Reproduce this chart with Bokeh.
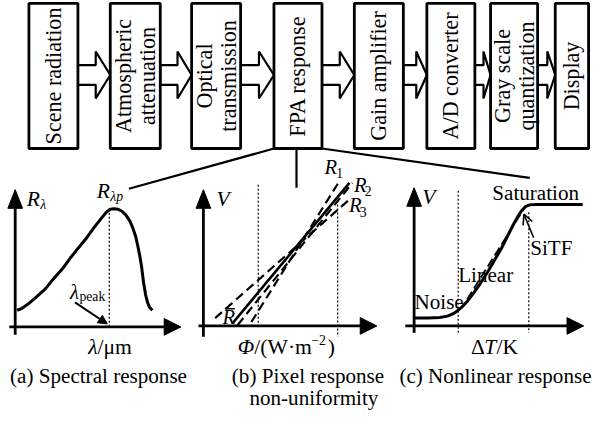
import math
from bokeh.plotting import figure
from bokeh.models import Range1d, Arrow, NormalHead, OpenHead
from bokeh.core.properties import value
from bokeh.embed import file_html
from bokeh.resources import INLINE

# ---------------- data ----------------
stage_labels = [["Scene radiation"], ["Atmospheric", "attenuation"], ["Optical", "transmission"],
                ["FPA response"], ["Gain amplifier"], ["A/D converter"],
                ["Gray scale", "quantization"], ["Display"]]
box_left = [33, 116, 199, 283, 365, 439, 504, 570]
box_right = [83, 167, 249, 332, 415, 488, 552, 604]
BOX_TOP, BOX_BOTTOM = 7, 155

# (a) spectral response, local units (x right, y up from axis origin)
spec_lambda = [2, 7, 14, 22, 31, 39, 48, 56, 64, 73, 81, 88, 93, 97, 101, 105, 109, 113, 117,
               120, 123, 125, 127, 129, 131, 133, 135, 137, 140]
spec_R = [17, 19, 24, 31, 39, 49, 59, 70, 80, 91, 102, 111, 117, 120, 120.5, 120, 118, 114, 108,
          101, 92, 83, 73, 61, 45, 33, 25, 20, 17]
spec_peak = 96

# (b) pixel response lines: (x0, y0, x1, y1) local
mean_line = [30, 3, 149, 146]
R1_line = [49, 4, 139, 148]
R2_line = [35, 1, 152, 146]
R3_line = [12, 8, 149, 129]
pix_dotted_x = [56, 137]

# (c) nonlinear response curve, local units
dT = [1, 14, 26, 34, 40, 45, 50, 55, 61, 68, 75, 82, 89, 95, 101, 106, 110, 114, 118, 124, 134, 172]
Vout = [8, 8, 8.5, 10, 12.5, 16, 20.5, 26, 34, 44, 55, 67, 79, 91, 103, 112, 118, 122, 123.5, 124, 124, 124]
linear_fit = [54, 27, 113, 121]
nl_dotted_x = [45, 117]
sitf_arrow = [122, 90, 112, 114]

# ---------------- figure ----------------
S = 0.98
FONT = value("Liberation Serif")
p = figure(width=592, height=411, x_range=Range1d(4, 608), y_range=Range1d(-423.3, -4),
           output_backend="svg", toolbar_location=None, min_border=0,
           x_axis_location=None, y_axis_location=None)
p.grid.visible = False
p.outline_line_color = None
p.background_fill_color = "white"
p.border_fill_color = "white"


def fs(px):
    return value(f"{px * S:.1f}px")


def txt(x, y, s, size=20, style="normal", align="center", baseline="middle", angle=0.0):
    p.text(x=[x], y=[-y], text=[s], text_font=FONT, text_font_size=fs(size),
           text_font_style=style, text_align=align, text_baseline=baseline,
           angle=angle, text_color="black")


# ---- block-arrows between boxes ----
CY = (BOX_TOP + BOX_BOTTOM) / 2 - 1
xs, ys = [], []
for r, l in zip(box_right[:-1], box_left[1:]):
    g = l - r
    h = 0.45 * g
    px_ = [r, l - h, l - h, l, l - h, l - h, r]
    py_ = [CY - 10, CY - 10, CY - 24, CY, CY + 24, CY + 10, CY + 10]
    xs.append(px_)
    ys.append([-v for v in py_])
p.patches(xs, ys, fill_color="white", line_color="black", line_width=2.2)

# ---- boxes ----
p.quad(left=box_left, right=box_right, top=[-BOX_TOP] * 8, bottom=[-BOX_BOTTOM] * 8,
       fill_color="white", line_color="black", line_width=2.8)
for l, r, lines in zip(box_left, box_right, stage_labels):
    cx = (l + r) / 2
    offs = [0] if len(lines) == 1 else [-12, 12.5]
    for o, s in zip(offs, lines):
        txt(cx + o, (BOX_TOP + BOX_BOTTOM) / 2, s, size=22.5, angle=math.pi / 2)

# ---- connectors from FPA box ----
fpa_l, fpa_r = box_left[3], box_right[3]
p.segment(x0=[fpa_l, fpa_r, 306], y0=[-BOX_BOTTOM] * 3, x1=[135, 544, 306], y1=[-196, -185, -195],
          line_color="black", line_width=2.2)


def axes(ox, oy, y_bottom, y_tip, x_left, x_tip):
    p.segment(x0=[ox, x_left], y0=[-y_bottom, -oy], x1=[ox, x_tip - 10], y1=[-(y_tip + 10), -oy],
              line_color="black", line_width=2.8)
    p.patches([[ox, ox - 7.5, ox + 7.5], [x_tip, x_tip - 17, x_tip - 17]],
              [[-y_tip, -(y_tip + 19), -(y_tip + 19)], [-oy, -(oy - 8.5), -(oy + 8.5)]],
              fill_color="black", line_color="black", line_width=1)


def L(ox, oy, dx, dy):
    return [ox + v for v in dx], [-(oy - v) for v in dy]


# ================= panel (a) =================
AX, AY = 19, 337
axes(AX, AY, 345, 197, 13, 188)
p.segment(x0=[AX + spec_peak], y0=[-(AY - 120.5)], x1=[AX + spec_peak], y1=[-AY],
          line_color="black", line_width=1.2, line_dash="2 2")
x, y = L(AX, AY, spec_lambda, spec_R)
p.line(x, y, line_color="black", line_width=3)
p.add_layout(Arrow(end=NormalHead(size=9, fill_color="black", line_color="black"),
                   x_start=80, y_start=-312, x_end=113, y_end=-334,
                   line_color="black", line_width=2))
txt(37.5, 206, "R", 22, "italic")
txt(44.5, 212, "λ", 14, "italic", align="left")
txt(109, 198, "R", 22, "italic")
txt(116, 204, "λp", 14, "italic", align="left")
txt(79.5, 301, "λ", 21, "italic")
txt(84.5, 306, "peak", 14, align="left")
txt(103, 357, "λ", 22, "italic", align="right")
txt(103, 357, "/μm", 22, align="left")
txt(104, 387, "(a) Spectral response", 21.5)

# ================= panel (b) =================
BX, BY = 211, 336
axes(BX, BY, 347, 197, 206, 388)
p.segment(x0=[BX + v for v in pix_dotted_x], y0=[-(BY - 144), -(BY - 128)],
          x1=[BX + v for v in pix_dotted_x], y1=[-BY, -(BY + 11)],
          line_color="black", line_width=1.2, line_dash="2 2")
for ln, dash, w in [(R1_line, "9 5", 2.2), (R2_line, "9 5", 2.2), (R3_line, "9 5", 2.2),
                    (mean_line, "solid", 2.6)]:
    x, y = L(BX, BY, [ln[0], ln[2]], [ln[1], ln[3]])
    p.line(x, y, line_color="black", line_width=w, line_dash=dash)
txt(231, 207, "V", 22, "italic")
for (rx, ry), (sx, sy), n in [((341, 174), (350, 180), "1"), ((371, 192), (379, 198), "2"),
                              ((366, 213), (374, 220), "3")]:
    txt(rx, ry, "R", 21, "italic")
    txt(sx, sy, n, 14)
txt(237, 327, "R", 21, "italic")
p.segment(x0=[233], y0=[-318.5], x1=[243], y1=[-318.5], line_color="black", line_width=1.4)
txt(246, 357, "Φ", 22, "italic", align="left")
txt(263, 357, "/(W·m", 22, align="left")
txt(321, 350, "−2", 14, align="left")
txt(338, 357, ")", 22, align="left")
txt(240, 387, "(b) Pixel response", 21.5, align="left")
txt(258, 410, "non-uniformity", 21.5, align="left")

# ================= panel (c) =================
CX0, CY0 = 426, 336
axes(CX0, CY0, 343, 195, 417, 599)
p.segment(x0=[CX0 + v for v in nl_dotted_x], y0=[-(CY0 - 138), -(CY0 - 116)],
          x1=[CX0 + v for v in nl_dotted_x], y1=[-(CY0 + 7), -(CY0 + 7)],
          line_color="black", line_width=1.2, line_dash="2 2")
txt(441, 204, "V", 22, "italic")
txt(550, 200, "Saturation", 21.5)
txt(566, 257, "SiTF", 21.5)
txt(499, 284, "Linear", 21.5)
txt(451.5, 312, "Noise", 21.5)
x, y = L(CX0, CY0, dT, Vout)
p.line(x, y, line_color="black", line_width=3)
x, y = L(CX0, CY0, [linear_fit[0], linear_fit[2]], [linear_fit[1], linear_fit[3]])
p.line(x, y, line_color="black", line_width=1.8, line_dash="9 4")
sx, sy = L(CX0, CY0, [sitf_arrow[0], sitf_arrow[2]], [sitf_arrow[1], sitf_arrow[3]])
p.add_layout(Arrow(end=OpenHead(size=10, line_color="black", line_width=1.6),
                   x_start=sx[0], y_start=sy[0], x_end=sx[1], y_end=sy[1],
                   line_color="black", line_width=1.6))
txt(484, 357, "Δ", 22, align="left")
txt(497.5, 357, "T", 22, "italic", align="left")
txt(510, 357, "/K", 22, align="left")
txt(509, 387, "(c) Nonlinear response", 21.5)

open("out.html", "w").write(file_html(p, INLINE))
